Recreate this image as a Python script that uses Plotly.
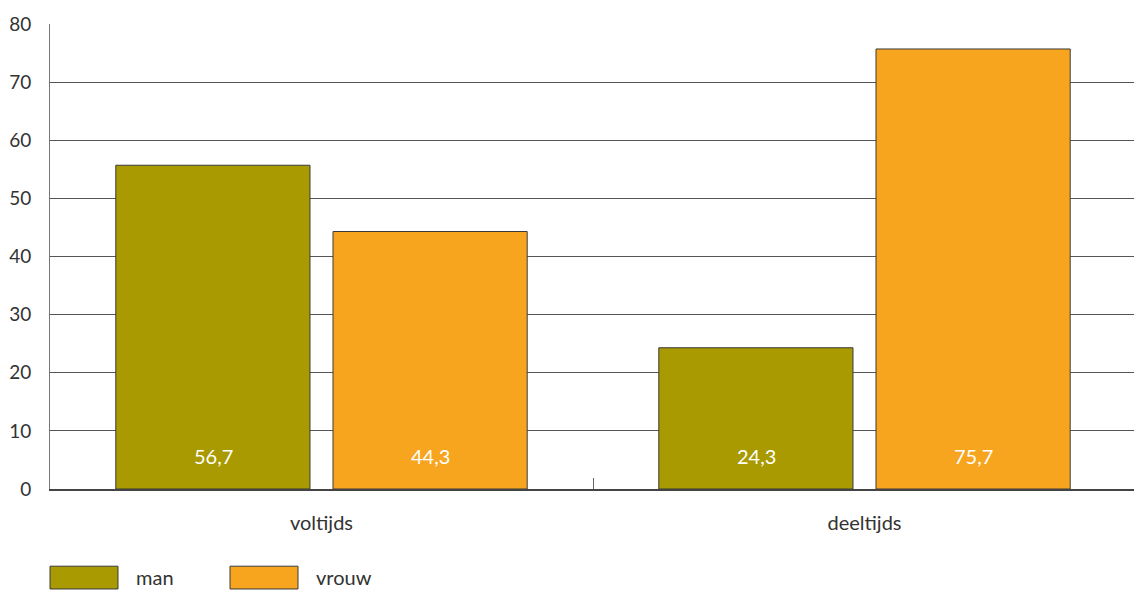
import plotly.graph_objects as go

categorieen = ["voltijds", "deeltijds"]
man = [55.7, 24.3]
vrouw = [44.3, 75.7]
man_labels = ["56,7", "24,3"]
vrouw_labels = ["44,3", "75,7"]
y_ticks = [0, 10, 20, 30, 40, 50, 60, 70, 80]

KLEUR_MAN = "#A89A00"
KLEUR_VROUW = "#F7A51E"
FONT = "Lato, 'Open Sans', sans-serif"
TEKST = "#333333"

fig = go.Figure()
for naam, waarden, kleur in [("man", man, KLEUR_MAN), ("vrouw", vrouw, KLEUR_VROUW)]:
    fig.add_trace(go.Bar(
        x=categorieen, y=waarden, name=naam,
        marker=dict(color=kleur, line=dict(color="#3a3a3a", width=1)),
        showlegend=False,
    ))

# waardelabels onderaan in de staven
for i, cat in enumerate(categorieen):
    for lbl, dx in [(man_labels[i], -108.5), (vrouw_labels[i], 108.5)]:
        fig.add_annotation(x=cat, y=0, xref="x", yref="y", text=lbl,
                           showarrow=False, xshift=dx, yshift=33,
                           font=dict(family=FONT, size=20, color="white"))

# legenda met grote vlakken
legenda = [("man", KLEUR_MAN, 50), ("vrouw", KLEUR_VROUW, 230)]
for naam, kleur, px in legenda:
    fig.add_shape(type="rect", xref="paper", yref="paper",
                  x0=(px - 50) / 1086, x1=(px + 68 - 50) / 1086,
                  y0=-0.215, y1=-0.166,
                  fillcolor=kleur, line=dict(color="#3a3a3a", width=1))
    fig.add_annotation(xref="paper", yref="paper",
                       x=(px + 84 - 50) / 1086, y=-0.189, text=naam,
                       xanchor="left", yanchor="middle", showarrow=False,
                       font=dict(family=FONT, size=20, color=TEKST))

fig.update_layout(
    width=1134, height=582,
    margin=dict(l=42, r=6, t=16, b=101, autoexpand=False),
    plot_bgcolor="white", paper_bgcolor="white",
    barmode="group", bargap=0.2, bargroupgap=0.106,
    font=dict(family=FONT, size=19, color=TEKST),
    xaxis=dict(
        automargin=False,
        showline=True, linecolor="#444444", linewidth=1.5,
        ticks="inside", tickson="boundaries", ticklen=11,
        tickcolor="#666666", tickwidth=1,
        ticklabelstandoff=15, showgrid=False,
        tickfont=dict(size=20),
    ),
    yaxis=dict(
        automargin=False,
        range=[0, 80], tickvals=y_ticks,
        showline=True, linecolor="#777777", linewidth=1,
        showgrid=True, gridcolor="#555555", gridwidth=1,
        zeroline=False, ticks="", ticklabelstandoff=14,
        tickfont=dict(size=19),
    ),
)

fig.write_html("out.html")
